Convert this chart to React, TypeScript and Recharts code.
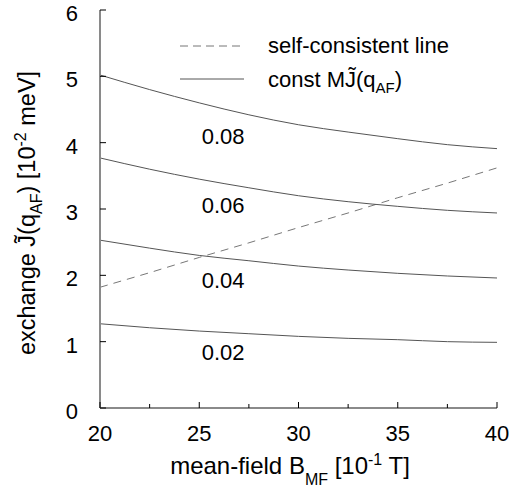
import {
  LineChart,
  Line,
  XAxis,
  YAxis,
  ReferenceDot,
  Legend,
} from "recharts";

// mean-field B_MF [10^-1 T]
const bField = [20, 22.5, 25, 27.5, 30, 32.5, 35, 37.5, 40];

// exchange J(q_AF) [10^-2 meV] along lines of constant M*J
const const002 = [1.27, 1.21, 1.16, 1.12, 1.08, 1.05, 1.03, 1.0, 0.99];
const const004 = [2.53, 2.41, 2.3, 2.22, 2.14, 2.08, 2.03, 1.99, 1.96];
const const006 = [3.77, 3.6, 3.45, 3.32, 3.2, 3.11, 3.04, 2.98, 2.94];
const const008 = [5.02, 4.8, 4.6, 4.42, 4.27, 4.16, 4.06, 3.97, 3.91];
const selfConsistent = [1.82, 2.04, 2.27, 2.49, 2.72, 2.94, 3.17, 3.39, 3.62];

const xTicks = [20, 22.5, 25, 27.5, 30, 32.5, 35, 37.5, 40];
const yTicks = [0, 1, 2, 3, 4, 5, 6];

const curveNames = ["0.02", "0.04", "0.06", "0.08"];
const curveLabelX = [26.2, 26.2, 26.2, 26.2];
const curveLabelY = [0.84, 1.93, 3.06, 4.1];

const data = bField.map((b, i) => ({
  b,
  c002: const002[i],
  c004: const004[i],
  c006: const006[i],
  c008: const008[i],
  sc: selfConsistent[i],
}));

const FONT = "'Liberation Sans', Arial, Helvetica, sans-serif";
const AXIS = "#8a8a8a";
const CURVE = "#555";

const isMajor = (v: number) => v % 5 === 0;

const BottomTick = ({ x, y, payload }: any) => {
  const major = isMajor(payload.value);
  return (
    <g>
      <line x1={x} x2={x} y1={y} y2={y - (major ? 6 : 4)} stroke="#000" />
      {major && (
        <text x={x} y={y + 33} textAnchor="middle" fontSize={22} fontFamily={FONT} fill="#000">
          {payload.value}
        </text>
      )}
    </g>
  );
};

const TopTick = ({ x, y, payload }: any) => {
  const major = isMajor(payload.value);
  return <line x1={x} x2={x} y1={y} y2={y + (major ? 6 : 4)} stroke="#000" />;
};

const LeftTick = ({ x, y, payload }: any) => (
  <g>
    <line x1={x} x2={x + 6} y1={y} y2={y} stroke="#000" />
    <text x={x - 22} y={y + 11} textAnchor="end" fontSize={22} fontFamily={FONT} fill="#000">
      {payload.value}
    </text>
  </g>
);

const RightTick = ({ x, y }: any) => (
  <line x1={x} x2={x - 6} y1={y} y2={y} stroke="#000" />
);

const YTitle = () => (
  <text
    transform="translate(35,213) rotate(-90)"
    textAnchor="middle"
    fontSize={23.5}
    fontFamily={FONT}
    fill="#000"
  >
    exchange J{"\u0303"}(q
    <tspan dy={7} fontSize={16}>AF</tspan>
    <tspan dy={-7}>) [10</tspan>
    <tspan dy={-9} fontSize={16}>-2</tspan>
    <tspan dy={9}> meV]</tspan>
  </text>
);

const XTitle = () => (
  <text x={290} y={474} textAnchor="middle" fontSize={24} fontFamily={FONT} fill="#000">
    mean-field B
    <tspan dy={11} fontSize={16}>MF</tspan>
    <tspan dy={-11}> [10</tspan>
    <tspan dy={-9} fontSize={16}>-1</tspan>
    <tspan dy={9}> T]</tspan>
  </text>
);

const LegendBox = () => (
  <svg width={510} height={110} style={{ display: "block" }}>
    <line x1={180} x2={244} y1={46} y2={46} stroke="#777" strokeDasharray="8 5" />
    <text x={268} y={53} fontSize={22} fontFamily={FONT} fill="#000">
      self-consistent line
    </text>
    <line x1={180} x2={244} y1={79} y2={79} stroke={CURVE} />
    <text x={268} y={87} fontSize={22} fontFamily={FONT} fill="#000">
      const MJ{"\u0303"}(q
      <tspan dy={6} fontSize={15}>AF</tspan>
      <tspan dy={-6}>)</tspan>
    </text>
  </svg>
);

export default function App() {
  return (
    <div style={{ position: "absolute", left: 0, top: 0, background: "#fff" }}>
      <LineChart
        width={510}
        height={489}
        data={data}
        margin={{ top: 10, right: 13, bottom: 0, left: 0 }}
      >
        <XAxis
          dataKey="b"
          type="number"
          domain={[20, 40]}
          ticks={xTicks}
          height={81}
          tickSize={0}
          tickMargin={0}
          tickLine={false}
          tick={<BottomTick />}
          axisLine={{ stroke: AXIS, strokeWidth: 2 }}
          interval={0}
          label={<XTitle />}
        />
        <XAxis
          xAxisId="top"
          dataKey="b"
          type="number"
          orientation="top"
          domain={[20, 40]}
          ticks={xTicks}
          height={0}
          tickSize={0}
          tickMargin={0}
          tickLine={false}
          tick={<TopTick />}
          axisLine={{ stroke: "#000", strokeWidth: 1 }}
          interval={0}
        />
        <YAxis
          type="number"
          domain={[0, 6]}
          ticks={yTicks}
          width={100}
          tickSize={0}
          tickMargin={0}
          tickLine={false}
          tick={<LeftTick />}
          axisLine={{ stroke: AXIS, strokeWidth: 2 }}
          interval={0}
          label={<YTitle />}
        />
        <YAxis
          yAxisId="right"
          type="number"
          orientation="right"
          domain={[0, 6]}
          ticks={yTicks}
          width={0}
          tickSize={0}
          tickMargin={0}
          tickLine={false}
          tick={<RightTick />}
          axisLine={{ stroke: "#000", strokeWidth: 1 }}
          interval={0}
        />
        <Legend
          content={<LegendBox />}
          layout="horizontal"
          verticalAlign="middle"
          align="center"
          wrapperStyle={{ left: 0, top: 0, width: 510, height: 110 }}
        />
        <Line dataKey="sc" type="linear" stroke="#777" strokeWidth={1} strokeDasharray="8 6" dot={false} isAnimationActive={false} />
        <Line dataKey="c002" type="monotone" stroke={CURVE} strokeWidth={1} dot={false} isAnimationActive={false} />
        <Line dataKey="c004" type="monotone" stroke={CURVE} strokeWidth={1} dot={false} isAnimationActive={false} />
        <Line dataKey="c006" type="monotone" stroke={CURVE} strokeWidth={1} dot={false} isAnimationActive={false} />
        <Line dataKey="c008" type="monotone" stroke={CURVE} strokeWidth={1} dot={false} isAnimationActive={false} />
        {curveNames.map((name, i) => (
          <ReferenceDot
            key={name}
            x={curveLabelX[i]}
            y={curveLabelY[i]}
            r={0}
            fill="none"
            stroke="none"
            label={{ value: name, position: "center", fontSize: 22, fontFamily: FONT, fill: "#000" }}
          />
        ))}
      </LineChart>
    </div>
  );
}
